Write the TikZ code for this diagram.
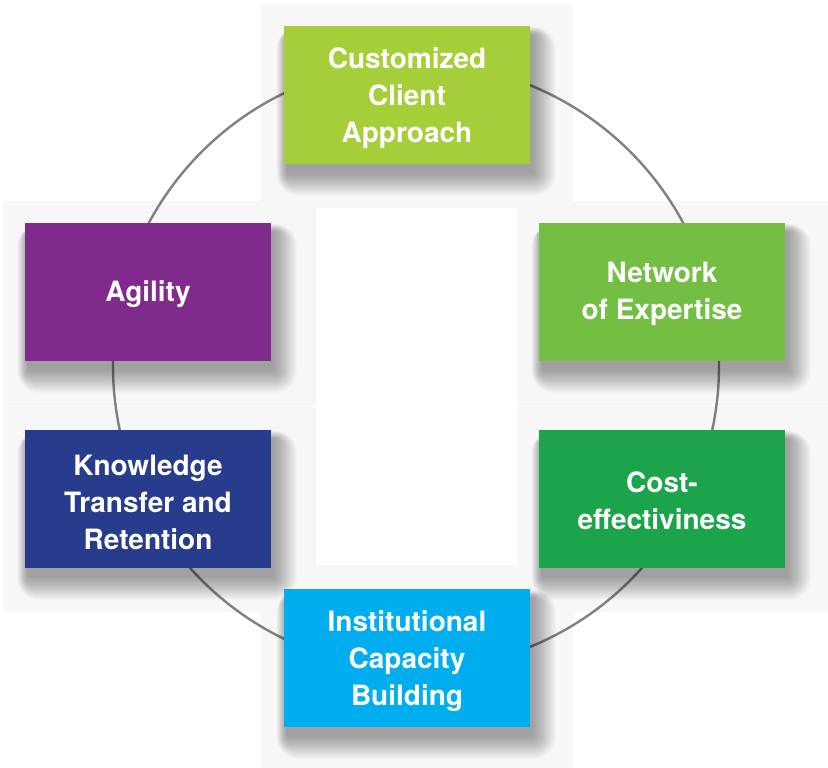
\documentclass[tikz,border=0pt]{standalone}
\usepackage{fontspec}
\setmainfont{TeX Gyre Heros}
\definecolor{cClient}{HTML}{A6CE39}
\definecolor{cNetwork}{HTML}{72BF44}
\definecolor{cCost}{HTML}{1BA44B}
\definecolor{cInst}{HTML}{00AEEF}
\definecolor{cKnow}{HTML}{283C8E}
\definecolor{cAgil}{HTML}{7F2A8C}
\definecolor{panelgray}{HTML}{F7F7F7}
\definecolor{ringgray}{HTML}{808080}
\newcommand\myshadow[1]{%
  \foreach \k in {0,...,23}{%
    \fill[black, opacity=0.017, rounded corners=\k pt]
      ([xshift=3pt-0.45*\k pt, yshift=-9pt+0.35*\k pt]#1.north west) rectangle
      ([xshift=3pt+\k pt, yshift=-9pt-\k pt]#1.south east);
  }}
\begin{document}
\begin{tikzpicture}[x=1pt,y=-1pt,
  box/.style={minimum width=246pt, minimum height=138pt, inner sep=0pt},
  boxtext/.style={align=center, text=white, font=\fontsize{28}{37}\selectfont\bfseries, inner sep=0pt},
  panel/.style={fill=panelgray, draw=none},
  ring/.style={circle, draw=ringgray, line width=2.4pt, minimum size=606pt, inner sep=0pt}]
\useasboundingbox (0,0) rectangle (828,768);
% background panels
\fill[panel] (261,4) rectangle (573,208);
\fill[panel] (3,201) rectangle (316,405.5);
\fill[panel] (3,406.5) rectangle (316,612);
\fill[panel] (517,201) rectangle (828,405.5);
\fill[panel] (517,406.5) rectangle (828,612);
\fill[panel] (261,565) rectangle (573,768);
% ring
\node[ring] (ringc) at (416,366) {};
% box frames (positions)
\path node[box] (client) at (407,95) {}
      node[box] (network) at (662,292) {}
      node[box] (cost) at (662,499) {}
      node[box] (inst) at (407,658) {}
      node[box] (know) at (148,499) {}
      node[box] (agil) at (148,292) {};
% shadows
\myshadow{client}\myshadow{network}\myshadow{cost}
\myshadow{inst}\myshadow{know}\myshadow{agil}
% fills
\fill[cClient] (client.north west) rectangle (client.south east);
\fill[cNetwork] (network.north west) rectangle (network.south east);
\fill[cCost] (cost.north west) rectangle (cost.south east);
\fill[cInst] (inst.north west) rectangle (inst.south east);
\fill[cKnow] (know.north west) rectangle (know.south east);
\fill[cAgil] (agil.north west) rectangle (agil.south east);
% texts
\node[boxtext] (clientT) at ([yshift=-3pt]client.center) {Customized\\Client\\Approach};
\node[boxtext] (networkT) at ([yshift=-2pt]network.center) {Network\\of Expertise};
\node[boxtext] (costT) at ([yshift=-2pt]cost.center) {Cost-\\effectiviness};
\node[boxtext] (instT) at ([yshift=-3pt]inst.center) {Institutional\\Capacity\\Building};
\node[boxtext] (knowT) at ([yshift=-3pt]know.center) {Knowledge\\Transfer and\\Retention};
\node[boxtext] (agilT) at ([yshift=-2pt]agil.center) {Agility};
\end{tikzpicture}
\end{document}
